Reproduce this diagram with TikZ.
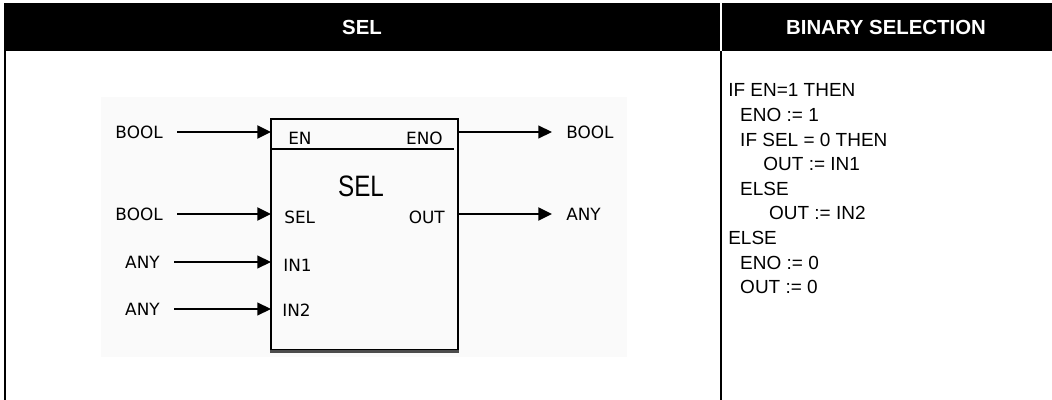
\documentclass[tikz,border=0pt]{standalone}
\usepackage{fontspec}
\setmainfont{Liberation Sans}
\newfontfamily\pinfont{DejaVu Sans}
\usetikzlibrary{positioning, arrows.meta}

\tikzset{
  headtext/.style={text=white, font=\bfseries\fontsize{14.5}{14.5}\selectfont},
  typelabel/.style={font=\pinfont\fontsize{12}{12}\selectfont, inner xsep=0.35cm, inner ysep=1pt},
  pinlabel/.style={font=\pinfont\fontsize{12}{12}\selectfont, inner sep=0pt},
  thickwire/.style={-{Triangle[length=0.34cm, width=0.32cm]}, line width=1.9pt},
  thinwire/.style={-{Triangle[length=0.34cm, width=0.32cm]}, line width=0.9pt},
}

\begin{document}
\begin{tikzpicture}[x=0.025cm, y=-0.025cm]
      \useasboundingbox (0,0) rectangle (1052,400);

      % table frame
      \fill[black] (4,3) rectangle (1052,51);
      \draw[white, line width=1.4pt] (721,3) -- (721,51);
      \draw[line width=1.4pt] (5,51) -- (5,400);
      \draw[line width=1.4pt] (721,51) -- (721,400);
      \node[headtext] (hdSel) at (362,27) {SEL};
      \node[headtext] (hdBin) at (886,27) {BINARY SELECTION};

      % block picture
      \fill[black!2] (101,97) rectangle (627,357);
      \node[draw, line width=0.9pt, minimum width=4.675cm, minimum height=5.775cm, inner sep=0pt] (selBox) at (364.5,234.5) {};
      \draw[line width=1.8pt, black!70] ([yshift=-0.5pt]selBox.south west) -- ([yshift=-0.5pt]selBox.south east);
      \draw[line width=0.9pt] (271,149) -- (454,149);
      \node[font=\fontsize{21}{21}\selectfont] (selTitle) at (361,186) {\scalebox{0.82}[1]{SEL}};

      \coordinate (enPin) at (271,132);
      \coordinate (selPin) at (271,214);
      \coordinate (inOnePin) at (271,262);
      \coordinate (inTwoPin) at (271,309);
      \coordinate (enoPin) at (458,132);
      \coordinate (outPin) at (458,214);

      \node[pinlabel, anchor=west] (enName) at (288,138) {EN};
      \node[pinlabel, anchor=west] (selName) at (284,217) {SEL};
      \node[pinlabel, anchor=west] (inOneName) at (283,265) {IN1};
      \node[pinlabel, anchor=west] (inTwoName) at (282,310) {IN2};
      \node[pinlabel, anchor=east] (enoName) at (443,138) {ENO};
      \node[pinlabel, anchor=east] (outName) at (445,217) {OUT};

      \node[typelabel, anchor=east] (enType) at (177,132) {BOOL};
      \node[typelabel, anchor=east] (selType) at (177,214) {BOOL};
      \node[typelabel, anchor=east] (inOneType) at (174,262) {ANY};
      \node[typelabel, anchor=east] (inTwoType) at (174,309) {ANY};
      \node[typelabel, anchor=west] (enoType) at (552,132) {BOOL};
      \node[typelabel, anchor=west] (outType) at (552,214) {ANY};

      \draw[thickwire] (enType) -- (enPin);
      \draw[thickwire] (selType) -- (selPin);
      \draw[thinwire] (inOneType) -- (inOnePin);
      \draw[thinwire] (inTwoType) -- (inTwoPin);
      \draw[thinwire] (enoPin) -- (enoType);
      \draw[thickwire] (outPin) -- (outType);

      % structured text
      \node[anchor=north west, inner sep=0pt, align=left, font=\fontsize{13.5}{17.5}\selectfont] (stCode) at (728,83.5) {IF EN=1 THEN\\
        \hspace*{8.5pt}ENO := 1\\
        \hspace*{8.5pt}IF SEL = 0 THEN\\
        \hspace*{25pt}OUT := IN1\\
        \hspace*{8.5pt}ELSE\\
        \hspace*{29pt}OUT := IN2\\
        ELSE\\
        \hspace*{8.5pt}ENO := 0\\
        \hspace*{8.5pt}OUT := 0};
\end{tikzpicture}
\end{document}
